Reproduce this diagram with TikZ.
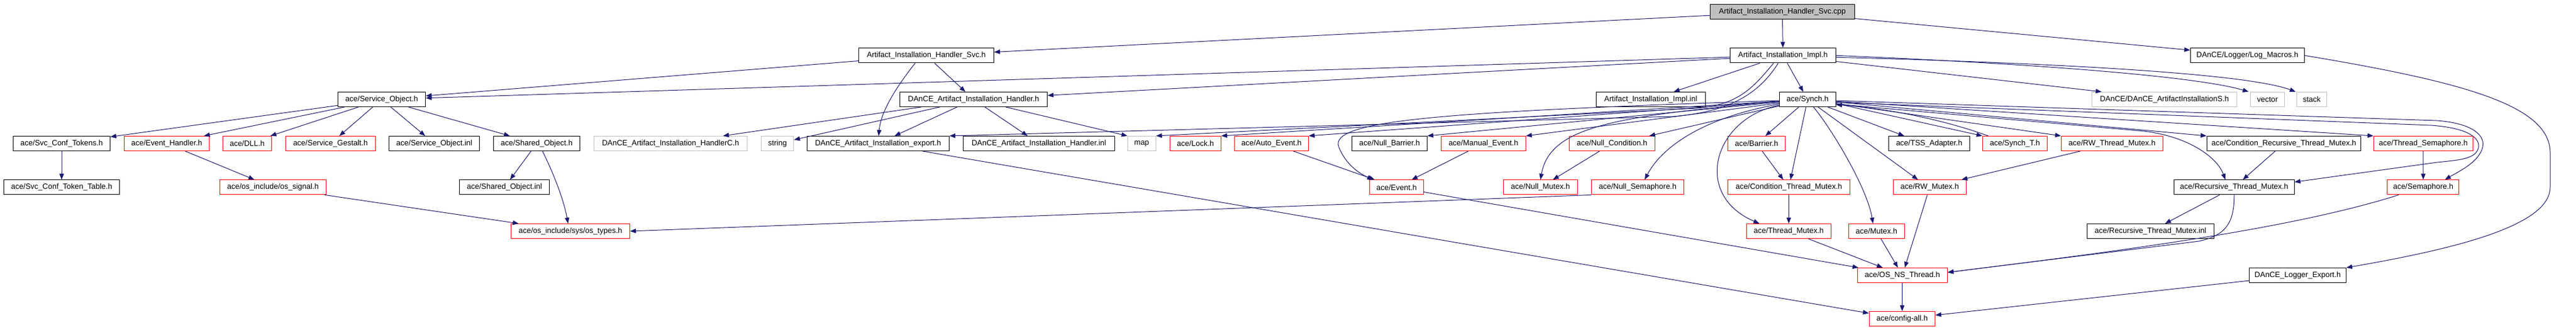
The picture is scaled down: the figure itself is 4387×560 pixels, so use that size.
\documentclass[tikz,border=0pt]{standalone}
\usepackage{fontspec}
\setmainfont{Liberation Sans}
\usetikzlibrary{arrows.meta}
\definecolor{edgecol}{HTML}{191970}
\definecolor{boxgray}{HTML}{BFBFBF}
\definecolor{boxred}{HTML}{FF0000}
\newcommand\mkn[6]{\node[#5, minimum width={(#3)-(#2)}] (#1) at ({((#2)+(#3))/2},#4) {#6};}
\begin{document}
\begin{tikzpicture}[x=1pt,y=-1pt,
  box/.style={draw, line width=1pt, minimum height=25pt, inner sep=0pt, text=black, font=\fontsize{13}{15}\selectfont},
  kbox/.style={box, draw=black},
  rbox/.style={box, draw=boxred},
  gbox/.style={box, draw=boxgray},
  cbox/.style={box, draw=black, fill=boxgray},
  edg/.style={draw=edgecol, line width=1pt, -{Triangle[length=10pt,width=7.5pt]}}]
\useasboundingbox (0,0) rectangle (4387,560);
% row 0
\mkn{cpp}{2912.5}{3158.2}{20}{cbox}{Artifact\_Installation\_Handler\_Svc.cpp}
% row 1
\mkn{svc}{1462.5}{1692.5}{94.3}{kbox}{Artifact\_Installation\_Handler\_Svc.h}
\mkn{impl}{2946.4}{3126.4}{94.3}{kbox}{Artifact\_Installation\_Impl.h}
\mkn{logm}{3730.4}{3924.3}{94.3}{kbox}{DAnCE/Logger/Log\_Macros.h}
% row 2
\mkn{so}{575.4}{724.6}{169}{kbox}{ace/Service\_Object.h}
\mkn{dah}{1532.5}{1783.6}{169}{kbox}{DAnCE\_Artifact\_Installation\_Handler.h}
\mkn{inl}{2718.2}{2904.3}{169}{kbox}{Artifact\_Installation\_Impl.inl}
\mkn{synch}{3030.4}{3126.4}{169}{kbox}{ace/Synch.h}
\mkn{ais}{3562.5}{3809.6}{169}{gbox}{DAnCE/DAnCE\_ArtifactInstallationS.h}
\mkn{vec}{3832.9}{3890}{169}{gbox}{vector}
\mkn{stk}{3911}{3962.9}{169}{gbox}{stack}
% row 3
\mkn{sct}{22.5}{187.5}{244}{kbox}{ace/Svc\_Conf\_Tokens.h}
\mkn{evh}{211.4}{356.4}{244}{rbox}{ace/Event\_Handler.h}
\mkn{dll}{379.3}{462.5}{244}{rbox}{ace/DLL.h}
\mkn{sg}{486.4}{639.3}{244}{rbox}{ace/Service\_Gestalt.h}
\mkn{soi}{662.5}{816.8}{244}{kbox}{ace/Service\_Object.inl}
\mkn{sho}{840.4}{987.5}{244}{kbox}{ace/Shared\_Object.h}
\mkn{hc}{1011.4}{1272.5}{244}{gbox}{DAnCE\_Artifact\_Installation\_HandlerC.h}
\mkn{str}{1296.4}{1351.8}{244}{gbox}{string}
\mkn{exp}{1374.3}{1616.4}{244}{kbox}{DAnCE\_Artifact\_Installation\_export.h}
\mkn{hinl}{1640.4}{1898.2}{244}{kbox}{DAnCE\_Artifact\_Installation\_Handler.inl}
\mkn{map}{1920.4}{1968.2}{244}{gbox}{map}
\mkn{lock}{1992.5}{2079.3}{244}{rbox}{ace/Lock.h}
\mkn{aev}{2102.5}{2228.2}{244}{rbox}{ace/Auto\_Event.h}
\mkn{nb}{2302.5}{2430.4}{244}{kbox}{ace/Null\_Barrier.h}
\mkn{mev}{2454.3}{2598.2}{244}{rbox}{ace/Manual\_Event.h}
\mkn{nc}{2672.5}{2818.2}{244}{rbox}{ace/Null\_Condition.h}
\mkn{bar}{2942.5}{3040.4}{244}{rbox}{ace/Barrier.h}
\mkn{tss}{3216.4}{3354.3}{244}{kbox}{ace/TSS\_Adapter.h}
\mkn{st}{3376.4}{3486.4}{244}{rbox}{ace/Synch\_T.h}
\mkn{rwt}{3510.4}{3683.2}{244}{rbox}{ace/RW\_Thread\_Mutex.h}
\mkn{crt}{3758.2}{4020.7}{244}{kbox}{ace/Condition\_Recursive\_Thread\_Mutex.h}
\mkn{ts}{4042.5}{4211.4}{244}{rbox}{ace/Thread\_Semaphore.h}
% row 4
\mkn{sctt}{6.4}{203.6}{318.4}{kbox}{ace/Svc\_Conf\_Token\_Table.h}
\mkn{sig}{374.3}{555.4}{318.4}{rbox}{ace/os\_include/os\_signal.h}
\mkn{shi}{782.5}{935.7}{318.4}{kbox}{ace/Shared\_Object.inl}
\mkn{ev}{2332.5}{2424.3}{318.4}{rbox}{ace/Event.h}
\mkn{nm}{2560.4}{2686.4}{318.4}{rbox}{ace/Null\_Mutex.h}
\mkn{ns}{2710.4}{2867.5}{318.4}{rbox}{ace/Null\_Semaphore.h}
\mkn{ctm}{2942.5}{3150.4}{318.4}{rbox}{ace/Condition\_Thread\_Mutex.h}
\mkn{rwm}{3224.3}{3348.2}{318.4}{rbox}{ace/RW\_Mutex.h}
\mkn{rtm}{3702.5}{3907.1}{318.4}{kbox}{ace/Recursive\_Thread\_Mutex.h}
\mkn{sem}{4065.7}{4187.9}{318.4}{rbox}{ace/Semaphore.h}
% row 5
\mkn{ost}{870.4}{1072.5}{393}{rbox}{ace/os\_include/sys/os\_types.h}
\mkn{tm}{2974.3}{3118.2}{393}{rbox}{ace/Thread\_Mutex.h}
\mkn{mx}{3148.2}{3243.2}{393}{rbox}{ace/Mutex.h}
\mkn{rtmi}{3554.3}{3770.4}{393}{kbox}{ace/Recursive\_Thread\_Mutex.inl}
% row 6
\mkn{osn}{3163.2}{3316.4}{468}{rbox}{ace/OS\_NS\_Thread.h}
\mkn{lexp}{3830.7}{3995.4}{468}{kbox}{DAnCE\_Logger\_Export.h}
% row 7
\mkn{cfg}{3183.2}{3295.4}{542}{rbox}{ace/config-all.h}

% ---- edges ----
\draw[edg] (cpp) -- (svc);
\draw[edg] (cpp) -- (impl);
\draw[edg] (cpp) -- (logm);
\draw[edg] (svc) -- (so);
\draw[edg] (svc) -- (dah);
\draw[edg] ([xshift=-19pt]svc.south) .. controls (1525,150) and (1500,190) .. ([xshift=1pt]exp.north);
\draw[edg] (impl) -- (so);
\draw[edg] (impl) -- (dah);
\draw[edg] (impl) -- (inl);
\draw[edg] (impl) -- (synch);
\draw[edg] ([xshift=-16pt]impl.south) .. controls (2985,150) and (2960,178) .. (2890,184) -- (map.north east);
\draw[edg] ([xshift=-8pt]impl.south) .. controls (2995,160) and (2945,190) .. (2850,198) -- (exp.north east);
\draw[edg] (impl) -- ([xshift=17pt]ais.north west);
\draw[edg] (impl.east) .. controls (3550,112) and (3760,135) .. ([xshift=-3pt]vec.north west);
\draw[edg] ([yshift=-3pt]impl.east) .. controls (3600,110) and (3840,130) .. ([xshift=-1pt]stk.north west);
\draw[edg] (logm.east) .. controls (4200,140) and (4343,180) .. (4343,260) -- (4343,318) .. controls (4343,380) and (4200,420) .. (lexp.north east);
% Service_Object
\draw[edg] (so) -- (sct);
\draw[edg] (so) -- (evh);
\draw[edg] (so) -- (dll);
\draw[edg] (so) -- (sg);
\draw[edg] (so) -- (soi);
\draw[edg] (so) -- (sho);
\draw[edg] (sct) -- (sctt);
\draw[edg] (evh) -- (sig);
\draw[edg] (sig) -- (ost);
\draw[edg] (sho) -- (shi);
\draw[edg] ([xshift=10pt]sho.south) .. controls (945,300) and (960,340) .. ([xshift=-4pt]ost.north);
% Handler.h
\draw[edg] (dah) -- (hc);
\draw[edg] (dah) -- (str);
\draw[edg] (dah) -- (exp);
\draw[edg] (dah) -- (hinl);
\draw[edg] (dah) -- (map.north west);
\draw[edg] (exp) -- (cfg);
% Synch.h left
\draw[edg] (synch) -- (lock.north east);
\draw[edg] (synch) -- (aev.north east);
\draw[edg] (synch) -- (nb.north east);
\draw[edg] (synch) -- (mev.north east);
\draw[edg] (synch) -- ([xshift=-10pt]nc.north east);
\draw[edg] ([yshift=-2pt]synch.west) .. controls (2450,190) and (2262,205) .. (2280,250) .. controls (2292,280) and (2315,295) .. ([xshift=-40pt]ev.north);
\draw[edg] ([yshift=-3pt]synch.west) .. controls (2760,198) and (2640,212) .. (nm.north);
\draw[edg] ([yshift=-8pt]synch.west) .. controls (2900,200) and (2830,250) .. ([xshift=12pt]ns.north);
\draw[edg] ([yshift=-10pt]synch.west) .. controls (2920,200) and (2880,330) .. ([xshift=-50pt]tm.north);
% Synch.h bottom
\draw[edg] (synch) -- (bar);
\draw[edg] (synch) -- (ctm);
\draw[edg] ([xshift=10pt]synch.south) .. controls (3120,220) and (3180,320) .. ([xshift=-6pt]mx.north);
\draw[edg] (synch) -- ([xshift=-20pt]rwm.north);
% Synch.h right
\draw[edg] (synch) -- ([xshift=27pt]tss.north west);
\draw[edg] ([yshift=6pt]synch.south east) -- (st.north west);
\draw[edg] ([xshift=10pt]st.north west) .. controls (3300,200) and (3200,183) .. ([yshift=4pt]synch.south east);
\draw[edg] (synch) -- (rwt.north west);
\draw[edg] (synch) -- (crt.north west);
\draw[edg] (synch) -- (ts.north west);
\draw[edg] ([yshift=-8pt]synch.east) -- (3640,222) .. controls (3720,228) and (3775,265) .. ([xshift=-15pt]rtm.north);
\draw[edg] ([yshift=-2pt]synch.east) -- (4150,205) .. controls (4215,210) and (4232,232) .. (4228,250) .. controls (4222,275) and (4190,290) .. ([xshift=37pt]sem.north);
\draw[edg] ([yshift=-5pt]synch.east) -- (4140,213) .. controls (4210,218) and (4226,238) .. (4220,254) .. controls (4213,270) and (4190,272) .. (4150,276) -- ([yshift=-4pt]rtm.north east);
% lower
\draw[edg] (aev) -- (ev);
\draw[edg] (mev) -- (ev);
\draw[edg] (nc) -- (nm);
\draw[edg] (ns.south west) -- (ost.east);
\draw[edg] (bar) -- (ctm);
\draw[edg] (ctm) -- (tm);
\draw[edg] (rwt) -- (rwm);
\draw[edg] (crt) -- (rtm);
\draw[edg] (rtm) -- (rtmi);
\draw[edg] (ts) -- (sem);
\draw[edg] (ev) -- (osn);
\draw[edg] (tm) -- (osn);
\draw[edg] (mx) -- (osn);
\draw[edg] (rwm) -- (osn);
\draw[edg] (rtm.south) .. controls (3805,380) and (3790,400) .. (3745,410) -- ([yshift=5pt]osn.east);
\draw[edg] ([xshift=-42pt]sem.south) .. controls (3900,390) and (3600,428) .. ([yshift=5pt]osn.east);
\draw[edg] (osn) -- (cfg);
\draw[edg] (lexp) -- (cfg);
\end{tikzpicture}
\end{document}
